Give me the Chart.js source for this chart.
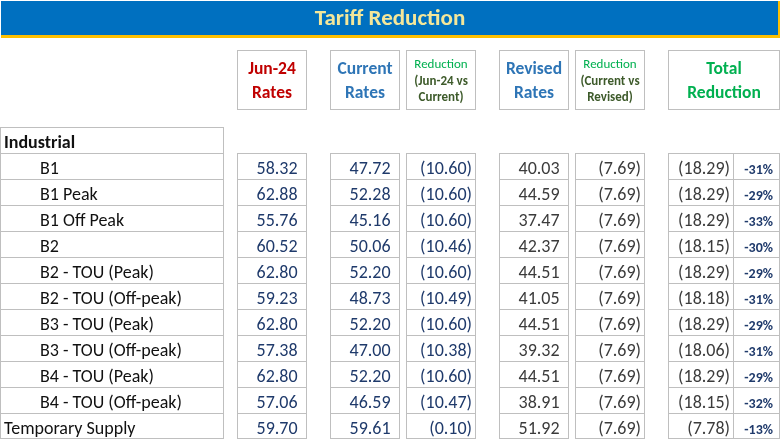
<!DOCTYPE html>
<html>
<head>
<meta charset="utf-8">
<script src="https://cdn.jsdelivr.net/npm/chart.js@4.4.1/dist/chart.umd.min.js"></script>
<style>
  body { margin: 0; background: #fff; }
  #wrap { width: 780px; height: 440px; }
</style>
</head>
<body>
<div id="wrap"><canvas id="table"></canvas></div>
<script>
// rows of the table (first one is the group heading)
const rowLabels = [
  "Industrial",
  "B1",
  "B1 Peak",
  "B1 Off Peak",
  "B2",
  "B2 - TOU (Peak)",
  "B2 - TOU (Off-peak)",
  "B3 - TOU (Peak)",
  "B3 - TOU (Off-peak)",
  "B4 - TOU (Peak)",
  "B4 - TOU (Off-peak)",
  "Temporary Supply",
];

// values per column (null for the heading row)
const jun24Rates = [null, 58.32, 62.88, 55.76, 60.52, 62.8, 59.23, 62.8, 57.38, 62.8, 57.06, 59.7];
const currentRates = [null, 47.72, 52.28, 45.16, 50.06, 52.2, 48.73, 52.2, 47.0, 52.2, 46.59, 59.61];
const reductionJunVsCurrent = [null, -10.6, -10.6, -10.6, -10.46, -10.6, -10.49, -10.6, -10.38, -10.6, -10.47, -0.1];
const revisedRates = [null, 40.03, 44.59, 37.47, 42.37, 44.51, 41.05, 44.51, 39.32, 44.51, 38.91, 51.92];
const reductionCurrentVsRevised = [null, -7.69, -7.69, -7.69, -7.69, -7.69, -7.69, -7.69, -7.69, -7.69, -7.69, -7.69];
const totalReduction = [null, -18.29, -18.29, -18.29, -18.15, -18.29, -18.18, -18.29, -18.06, -18.29, -18.15, -7.78];
const totalReductionPct = [null, -31, -29, -33, -30, -29, -31, -29, -31, -29, -32, -13];

const FONT = "Calibri, Carlito, 'Open Sans', sans-serif";
const GRID = "#BFBFBF";
const NAVY = "#1F3A6B";
const DARK = "#3B3B3B";

// column layout on the x scale (0..780)
const columns = [
  { key: "label", x0: 0, x1: 224 },
  { key: "jun24", x0: 237, x1: 307, values: jun24Rates, color: NAVY },
  { key: "current", x0: 330, x1: 400, values: currentRates, color: NAVY },
  { key: "red1", x0: 406, x1: 476, values: reductionJunVsCurrent, color: NAVY },
  { key: "revised", x0: 499, x1: 569, values: revisedRates, color: DARK },
  { key: "red2", x0: 575, x1: 645, values: reductionCurrentVsRevised, color: DARK },
  { key: "total", x0: 668, x1: 734, values: totalReduction, color: DARK },
  { key: "pct", x0: 734, x1: 780, values: totalReductionPct, color: NAVY },
];

// header boxes spanning columns, one entry per text line
const headers = [
  { from: "jun24", to: "jun24", size: 17.5, lines: [["Jun-24", "#C00000", 700], ["Rates", "#C00000", 700]] },
  { from: "current", to: "current", size: 17.5, lines: [["Current", "#2E75B6", 700], ["Rates", "#2E75B6", 700]] },
  { from: "red1", to: "red1", size: 13, lines: [["Reduction", "#00B050", 400], ["(Jun-24 vs", "#3D5A2A", 700], ["Current)", "#3D5A2A", 700]] },
  { from: "revised", to: "revised", size: 17.5, lines: [["Revised", "#2E75B6", 700], ["Rates", "#2E75B6", 700]] },
  { from: "red2", to: "red2", size: 13, lines: [["Reduction", "#00B050", 400], ["(Current vs", "#3D5A2A", 700], ["Revised)", "#3D5A2A", 700]] },
  { from: "total", to: "pct", size: 17.5, lines: [["Total", "#00B050", 700], ["Reduction", "#00B050", 700]] },
];

const lastRow = rowLabels.length - 1;

function fmt(v) {
  const s = Math.abs(v).toFixed(2);
  return v < 0 ? "(" + s + ")" : s;
}

const datasets = columns.map((col) => ({
  label: col.key,
  data: rowLabels.map((_, j) => (j === 0 && col.key !== "label" ? null : [col.x0, col.x1])),
  grouped: false,
  barPercentage: 1,
  categoryPercentage: 1,
  inflateAmount: 0,
  backgroundColor: "#ffffff",
  borderColor: GRID,
  borderSkipped: false,
  borderWidth: (ctx) => ({
    top: 1,
    left: col.key === "pct" ? 0 : 1,
    right: 1,
    bottom: ctx.dataIndex === lastRow ? 1 : 0,
  }),
}));

const tablePlugin = {
  id: "tableText",
  beforeDraw(chart) {
    const { ctx, width } = chart;
    ctx.save();
    ctx.fillStyle = "#ffffff";
    ctx.fillRect(0, 0, width, chart.height);
    // title band
    ctx.fillStyle = "#FFC000";
    ctx.fillRect(1, 1, width - 1, 37);
    ctx.fillStyle = "#0070C0";
    ctx.fillRect(1, 1, width - 3, 34);
    ctx.restore();
  },
  afterDatasetsDraw(chart) {
    const { ctx } = chart;
    const x = chart.scales.x;
    const y = chart.scales.y;
    const col = (k) => columns.find((c) => c.key === k);
    ctx.save();

    // header boxes
    headers.forEach((h) => {
      const left = x.getPixelForValue(col(h.from).x0);
      const right = x.getPixelForValue(col(h.to).x1);
      ctx.strokeStyle = GRID;
      ctx.lineWidth = 1;
      ctx.strokeRect(left + 0.5, 50.5, right - left - 1, 59);
      ctx.textAlign = "center";
      ctx.textBaseline = "alphabetic";
      const three = h.lines.length === 3;
      const step = three ? 16.7 : 24;
      const first = three ? 68 : 74;
      h.lines.forEach(([txt, color, weight], i) => {
        ctx.font = weight + " " + h.size + "px " + FONT;
        ctx.fillStyle = color;
        ctx.fillText(txt, (left + right) / 2, first + i * step);
      });
    });

    // body rows
    const half = (y.getPixelForValue(1) - y.getPixelForValue(0)) / 2;
    rowLabels.forEach((label, j) => {
      const base = y.getPixelForValue(j) - half + 20.5;
      ctx.textBaseline = "alphabetic";
      ctx.textAlign = "left";
      ctx.fillStyle = "#111111";
      const sub = j !== 0 && j !== lastRow;
      ctx.font = (j === 0 ? "bold " : "") + "18px " + FONT;
      ctx.fillText(label, x.getPixelForValue(sub ? 40 : 4), base);

      columns.forEach((c) => {
        if (!c.values || c.values[j] == null) return;
        const v = c.values[j];
        const right = x.getPixelForValue(c.x1);
        ctx.textAlign = "right";
        ctx.fillStyle = c.color;
        if (c.key === "pct") {
          ctx.font = "bold 14px " + FONT;
          ctx.fillText(v + "%", right - 7, base);
        } else {
          ctx.font = "18px " + FONT;
          const pad = v < 0 ? 4 : 4 + ctx.measureText(")").width;
          ctx.fillText(fmt(v), right - pad, base);
        }
      });
    });
    ctx.restore();
  },
};

new Chart(document.getElementById("table"), {
  type: "bar",
  data: { labels: rowLabels, datasets },
  options: {
    indexAxis: "y",
    responsive: true,
    maintainAspectRatio: false,
    animation: false,
    layout: { padding: { top: 0, left: 0, right: 0, bottom: 1 } },
    scales: {
      x: { type: "linear", min: 0, max: 780, display: false },
      y: { type: "category", display: false },
    },
    plugins: {
      legend: { display: false },
      tooltip: { enabled: false },
      title: {
        display: true,
        text: "Tariff Reduction",
        color: "#F4E79A",
        font: { family: FONT, size: 23, weight: "bold" },
        padding: { top: 5.2, bottom: 94.2 },
      },
    },
  },
  plugins: [tablePlugin],
});
</script>
</body>
</html>
